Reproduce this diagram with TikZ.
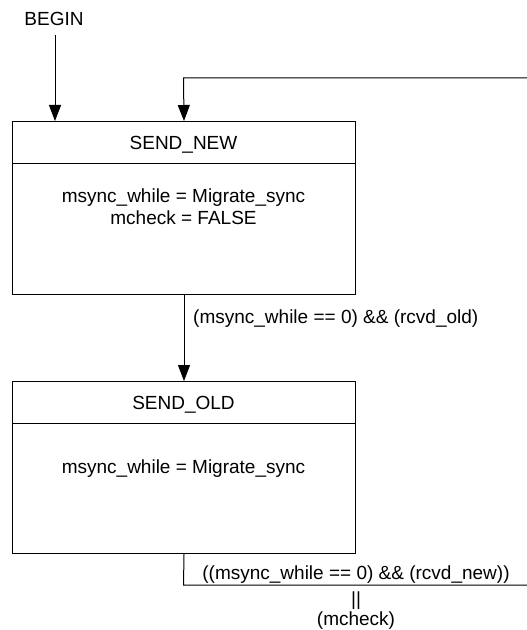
\documentclass[tikz,border=0pt]{standalone}
\usepackage{fontspec}
\setmainfont{Liberation Sans}
\usetikzlibrary{arrows.meta}
\begin{document}
\begin{tikzpicture}[x=1bp,y=-1bp,
  every node/.style={font=\fontsize{19bp}{22bp}\selectfont, inner sep=0pt},
  line/.style={draw=black, line width=1bp},
  flow/.style={line, -{Triangle[length=16bp,width=12bp]}},
  statebox/.style={line, rectangle, minimum width=343bp, anchor=north west},
  txt/.style={anchor=base}
]
\useasboundingbox (0,0) rectangle (527,630);

% start marker
\node[txt] (begin) at (54,26) {BEGIN};
\coordinate (beginend) at (55,35);

% state SEND_NEW
\node[statebox, minimum height=173bp] (sn) at (12,121) {};
\coordinate (snsplitL) at (12,164);
\coordinate (snsplitR) at (355,164);
\draw[line] (snsplitL) -- (snsplitR);
\node[txt] (sntitle) at (183.5,150) {SEND\_NEW};
\node[txt] (snbody1) at (183.5,202) {msync\_while = Migrate\_sync};
\node[txt] (snbody2) at (183.5,224) {mcheck = FALSE};

% state SEND_OLD
\node[statebox, minimum height=172bp] (so) at (12,381) {};
\coordinate (sosplitL) at (12,423);
\coordinate (sosplitR) at (355,423);
\draw[line] (sosplitL) -- (sosplitR);
\node[txt] (sotitle) at (183.5,409) {SEND\_OLD};
\node[txt] (sobody) at (183.5,473) {msync\_while = Migrate\_sync};

% transitions
\draw[flow] (beginend) -- (beginend |- sn.north);
\draw[flow] (sn.south) -- (so.north);
\node[anchor=base west] (lblold) at (193,323) {(msync\_while == 0) \&\& (rcvd\_old)};

% loop back from SEND_OLD to SEND_NEW
\coordinate (loopdown) at (183.5,585);
\coordinate (loopright) at (527,585);
\coordinate (looptop) at (527,78);
\coordinate (loopleft) at (183.5,78);
\draw[line] (so.south) -- (loopdown) -- (loopright);
\draw[flow] (looptop) -- (loopleft) -- (sn.north);
\node[txt] (lblnew1) at (356,579) {((msync\_while == 0) \&\& (rcvd\_new))};
\node[txt] (lblnew2) at (356,605) {||};
\node[txt] (lblnew3) at (356,625) {(mcheck)};
\end{tikzpicture}
\end{document}
